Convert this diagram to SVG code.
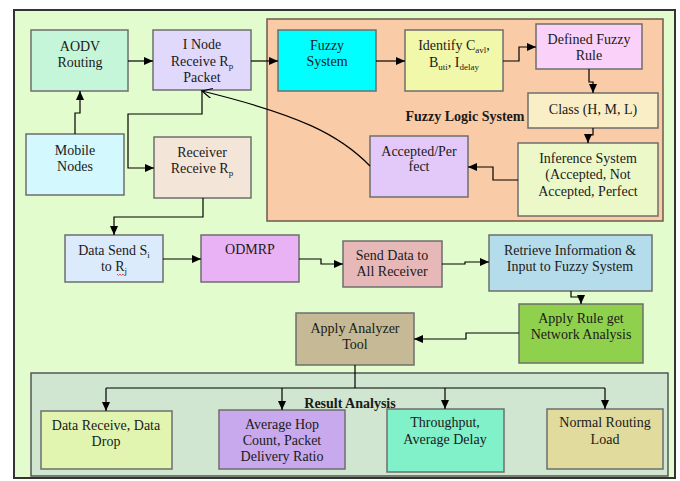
<svg xmlns="http://www.w3.org/2000/svg" width="680" height="481" viewBox="0 0 680 481">
<defs>
<marker id="ah" markerUnits="userSpaceOnUse" markerWidth="10" markerHeight="10" refX="9" refY="4" orient="auto"><path d="M0,0 L9,4 L0,8 z" fill="#000"/></marker>
<marker id="ao" markerUnits="userSpaceOnUse" markerWidth="12" markerHeight="12" refX="10" refY="5" orient="auto"><path d="M0,0 L10,5 L0,10" fill="none" stroke="#000" stroke-width="1.2"/></marker>
<style>
.b{stroke:#6e6e6e;stroke-width:1.5}
.t{font-family:"Liberation Serif","Times New Roman",serif;font-size:14px;fill:#1a1a1a;text-anchor:middle}
.bold{font-weight:bold}
.c path{fill:none;stroke:#000;stroke-width:1.2}
.s{font-size:9px}
</style>
</defs>
<rect x="0" y="0" width="680" height="481" fill="#fff"/>
<rect id="frame" x="14" y="10" width="661" height="468" fill="#e3fccd" stroke="#333" stroke-width="2"/>
<g id="fuzzy-logic-system">
<rect x="267" y="19" width="396" height="202" fill="#f9cba7" stroke="#6e5a4a" stroke-width="1.5"/>
<text class="t bold" x="465" y="121">Fuzzy Logic System</text>
</g>
<g id="result-analysis">
<rect x="31" y="373" width="637" height="103" fill="#d0e6d0" stroke="#555" stroke-width="1.5"/>
<text class="t bold" x="350" y="408">Result Analysis</text>
</g>
<g id="aodv"><rect class="b" x="31" y="30" width="97" height="61" fill="#c6f6d9"/><text class="t" x="80" y="51">AODV</text><text class="t" x="80" y="67">Routing</text></g>
<g id="inode"><rect class="b" x="153" y="30" width="98" height="60" fill="#e1d9fb"/><text class="t" x="202" y="49">I Node</text><text class="t" x="202" y="66">Receive R<tspan class="s" dy="3">p</tspan></text><text class="t" x="202" y="82">Packet</text></g>
<g id="mobile"><rect class="b" x="26" y="134" width="98" height="61" fill="#d3f8fd"/><text class="t" x="75" y="155">Mobile</text><text class="t" x="75" y="171">Nodes</text></g>
<g id="receiver"><rect class="b" x="154" y="137" width="97" height="61" fill="#f4e5d9"/><text class="t" x="202" y="157">Receiver</text><text class="t" x="202" y="173">Receive R<tspan class="s" dy="3">p</tspan></text></g>
<g id="fuzzy"><rect class="b" x="278" y="30" width="98" height="61" fill="#00ffff"/><text class="t" x="327" y="50">Fuzzy</text><text class="t" x="327" y="66">System</text></g>
<g id="identify"><rect class="b" x="405" y="30" width="98" height="61" fill="#f1f8aa"/><text class="t" x="454" y="50">Identify C<tspan class="s" dy="3">avl</tspan><tspan dy="-3">,</tspan></text><text class="t" x="454" y="67">B<tspan class="s" dy="3">uti</tspan><tspan dy="-3">, I</tspan><tspan class="s" dy="3">delay</tspan></text></g>
<g id="defined"><rect class="b" x="536" y="24" width="106" height="45" fill="#f9d1f9"/><text class="t" x="589" y="44">Defined Fuzzy</text><text class="t" x="589" y="60">Rule</text></g>
<g id="class"><rect class="b" x="528" y="93" width="130" height="35" fill="#faeec6"/><text class="t" x="593" y="114">Class (H, M, L)</text></g>
<g id="inference"><rect class="b" x="518" y="143" width="140" height="73" fill="#edf8c9"/><text class="t" x="588" y="163">Inference System</text><text class="t" x="588" y="179">(Accepted, Not</text><text class="t" x="588" y="196">Accepted, Perfect</text></g>
<g id="accepted"><rect class="b" x="370" y="136" width="98" height="61" fill="#e2c9f9"/><text class="t" x="419" y="156">Accepted/Per</text><text class="t" x="419" y="171">fect</text></g>
<g id="datasend"><rect class="b" x="65" y="235" width="98" height="47" fill="#dcebfc"/><text class="t" x="114" y="255">Data Send S<tspan class="s" dy="3">i</tspan></text><text class="t" x="114" y="271">to R<tspan class="s" dy="3">j</tspan></text><path d="M117,274 l1.5,1.5 l1.5,-1.5 l1.5,1.5 l1.5,-1.5 l1.5,1.5 l1.5,-1.5" fill="none" stroke="#e03030" stroke-width="0.8"/></g>
<g id="odmrp"><rect class="b" x="201" y="235" width="98" height="47" fill="#e9b2f5"/><text class="t" x="250" y="254">ODMRP</text></g>
<g id="senddata"><rect class="b" x="343" y="241" width="99" height="46" fill="#e6b8b8"/><text class="t" x="392" y="260">Send Data to</text><text class="t" x="392" y="276">All Receiver</text></g>
<g id="retrieve"><rect class="b" x="489" y="235" width="163" height="56" fill="#b5dcea"/><text class="t" x="570" y="255">Retrieve Information &amp;</text><text class="t" x="570" y="271">Input to Fuzzy System</text></g>
<g id="applyrule"><rect class="b" x="519" y="304" width="124" height="59" fill="#8fd04d"/><text class="t" x="581" y="323">Apply Rule get</text><text class="t" x="581" y="339">Network Analysis</text></g>
<g id="analyzer"><rect class="b" x="296" y="313" width="118" height="52" fill="#c5ba95"/><text class="t" x="355" y="333">Apply Analyzer</text><text class="t" x="355" y="349">Tool</text></g>
<g id="datareceive"><rect class="b" x="41" y="411" width="131" height="58" fill="#e1f5b1"/><text class="t" x="106" y="430">Data Receive, Data</text><text class="t" x="106" y="446">Drop</text></g>
<g id="avghop"><rect class="b" x="219" y="410" width="126" height="59" fill="#c9a9ed"/><text class="t" x="282" y="429">Average Hop</text><text class="t" x="282" y="445">Count, Packet</text><text class="t" x="282" y="461">Delivery Ratio</text></g>
<g id="throughput"><rect class="b" x="387" y="409" width="117" height="63" fill="#81f1c9"/><text class="t" x="445" y="427">Throughput,</text><text class="t" x="445" y="444">Average Delay</text></g>
<g id="normal"><rect class="b" x="547" y="409" width="116" height="60" fill="#e1db9d"/><text class="t" x="605" y="427">Normal Routing</text><text class="t" x="605" y="444">Load</text></g>
<g id="connectors" class="c">
<path d="M128,61 H153" marker-end="url(#ah)"/>
<path d="M75,134 V113 H80 V91" marker-end="url(#ah)"/>
<path d="M251,61 H278" marker-end="url(#ah)"/>
<path d="M202,90 V114 H128 V168 H154" marker-end="url(#ah)"/>
<path d="M370,166 C340,135 300,115 202,91" marker-end="url(#ao)"/>
<path d="M376,61 H405" marker-end="url(#ah)"/>
<path d="M503,61 H519 V47 H536" marker-end="url(#ah)"/>
<path d="M589,69 V82 H593 V93" marker-end="url(#ah)"/>
<path d="M593,128 V135 H588 V143" marker-end="url(#ah)"/>
<path d="M518,180 H493 V167 H468" marker-end="url(#ah)"/>
<path d="M203,198 V217 H114 V235" marker-end="url(#ah)"/>
<path d="M163,259 H201" marker-end="url(#ah)"/>
<path d="M299,259 H321 V264 H343" marker-end="url(#ah)"/>
<path d="M442,264 H465 V262 H489" marker-end="url(#ah)"/>
<path d="M571,291 V297 H581 V304" marker-end="url(#ah)"/>
<path d="M519,333 H466 V339 H414" marker-end="url(#ah)"/>
<path d="M355,365 V388 M106,388 H605"/>
<path d="M106,388 V411" marker-end="url(#ah)"/>
<path d="M282,388 V410" marker-end="url(#ah)"/>
<path d="M445,388 V409" marker-end="url(#ah)"/>
<path d="M605,388 V409" marker-end="url(#ah)"/>
</g>
</svg>
